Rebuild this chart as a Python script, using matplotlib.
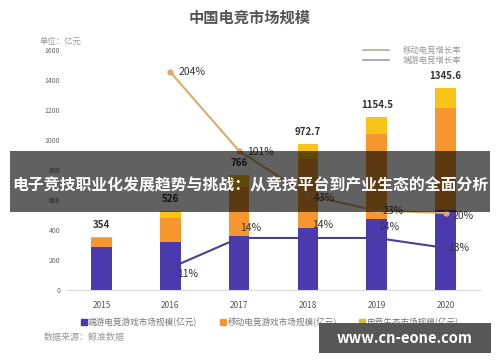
import matplotlib
matplotlib.use("Agg")
import matplotlib.pyplot as plt
from matplotlib.lines import Line2D
from matplotlib.patches import Rectangle
import numpy as np

plt.rcParams['font.family'] = ['Noto Sans CJK SC', 'DejaVu Sans']

# data (亿元 / %)
years = ["2015", "2016", "2017", "2018", "2019", "2020"]
pc_market = [287, 320, 363, 413, 471, 534]
mobile_market = [60, 160, 322, 460, 570, 682]
eco_market = [7, 46, 81, 100, 113, 130]
totals = ["354", "526", "766", "972.7", "1154.5", "1345.6"]
mobile_growth = [204, 101, 43, 23, 20]
pc_growth = [11, 14, 14, 14, 13]
growth_years = years[1:]

c_pc = "#4b3aad"
c_mob = "#f5962e"
c_eco = "#f8c417"
c_mline = "#d8ad6c"
c_pline = "#4a3e96"

fig = plt.figure(figsize=(5, 3.62), dpi=100)
ax = fig.add_axes([0.134, 0.199, 0.826, 0.663])

x = np.arange(len(years))
w = 0.3
pc = np.array(pc_market)
mob = np.array(mobile_market)
eco = np.array(eco_market)
ax.bar(x, pc, w, color=c_pc, zorder=2)
ax.bar(x, mob, w, bottom=pc, color=c_mob, zorder=2)
ax.bar(x, eco, w, bottom=pc + mob, color=c_eco, zorder=2)
for i, t in enumerate(totals):
    ax.annotate(t, (x[i], pc[i] + mob[i] + eco[i]), xytext=(0, 5), textcoords="offset points",
                ha="center", va="bottom", fontsize=7, fontweight="bold", color="#333333")

ax.set_xlim(-0.5, 5.5)
ax.set_ylim(0, 1600)
ax.set_yticks(range(0, 1601, 200))
ax.set_xticks(x)
ax.set_xticklabels(years)
ax.tick_params(axis="y", length=0, labelsize=5, labelcolor="#666666", pad=5)
ax.tick_params(axis="x", length=0, labelsize=6, labelcolor="#555555", pad=8)
for s in ["top", "right", "left"]:
    ax.spines[s].set_visible(False)
ax.spines["bottom"].set_color("#d9d9d9")

# mobile growth line
ax2 = ax.twinx()
ax2.set_ylim(-80.4, 232.7)
ax2.axis("off")
gx = x[1:]
ax2.plot(gx, mobile_growth, color=c_mline, lw=1.5, marker="o", ms=3.5, zorder=3)
m_off = [(6, 0), (6, -1), (4, -2), (4, 0), (5, -2)]
for i, v in enumerate(mobile_growth):
    ax2.annotate(f"{v}%", (gx[i], v), xytext=m_off[i], textcoords="offset points",
                 ha="left", va="center", fontsize=7.5, color="#333333")

# pc growth line
ax3 = ax.twinx()
ax3.set_ylim(8.8, 32.8)
ax3.axis("off")
ax3.plot(gx, pc_growth, color=c_pline, lw=1.5, zorder=3)
p_off = [(5, -4), (1, 7), (3, 9), (1, 8), (2, 0)]
for i, v in enumerate(pc_growth):
    ax3.annotate(f"{v}%", (gx[i], v), xytext=p_off[i], textcoords="offset points",
                 ha="left", va="center", fontsize=7.5, color="#333333")

# titles and notes
fig.text(0.5, 0.95, "中国电竞市场规模", ha="center", va="center", fontsize=11,
         fontweight="bold", color="#555555")
fig.text(0.08, 0.887, "单位：亿元", ha="left", va="center", fontsize=6, color="#999999")
fig.text(0.088, 0.069, "数据来源：鲸准数据", ha="left", va="center", fontsize=6.5, color="#999999")

# top legend (lines)
top_handles = [Line2D([], [], color="#b8aaa0", lw=1.2), Line2D([], [], color="#9c98b4", lw=1.2)]
fig.legend(top_handles, ["移动电竞增长率", "端游电竞增长率"], loc="center left",
           bbox_to_anchor=(0.71, 0.847), frameon=False, fontsize=6, labelcolor="#999999",
           handlelength=3.2, handletextpad=1.6, labelspacing=0.2)

# bottom legend (bars)
bot_handles = [Line2D([], [], ls="", marker="s", ms=4, color=c) for c in (c_pc, c_mob, "#c9c23a")]
fig.legend(bot_handles, ["端游电竞游戏市场规模(亿元)", "移动电竞游戏市场规模(亿元)", "电竞生态市场规模(亿元)"],
           loc="center left", bbox_to_anchor=(0.145, 0.11), ncol=3, frameon=False, fontsize=6.2,
           labelcolor="#777777", handletextpad=0.1, columnspacing=2.6, handlelength=0.8)

# overlay banners
fig.patches.append(Rectangle((0.02, 0.414), 0.96, 0.168, transform=fig.transFigure,
                             facecolor="black", alpha=0.62, zorder=10))
fig.text(0.5, 0.487, "电子竞技职业化发展趋势与挑战：从竞技平台到产业生态的全面分析", ha="center",
         va="center", fontsize=11.4, fontweight="bold", color="white", zorder=11)
fig.patches.append(Rectangle((0.638, 0.025), 0.344, 0.083, transform=fig.transFigure,
                             facecolor="#575757", zorder=10))
fig.text(0.81, 0.067, "www.cn-eone.com", ha="center", va="center", fontsize=10.5,
         fontweight="bold", color="white", zorder=11)

fig.savefig("out.png", dpi=100)
